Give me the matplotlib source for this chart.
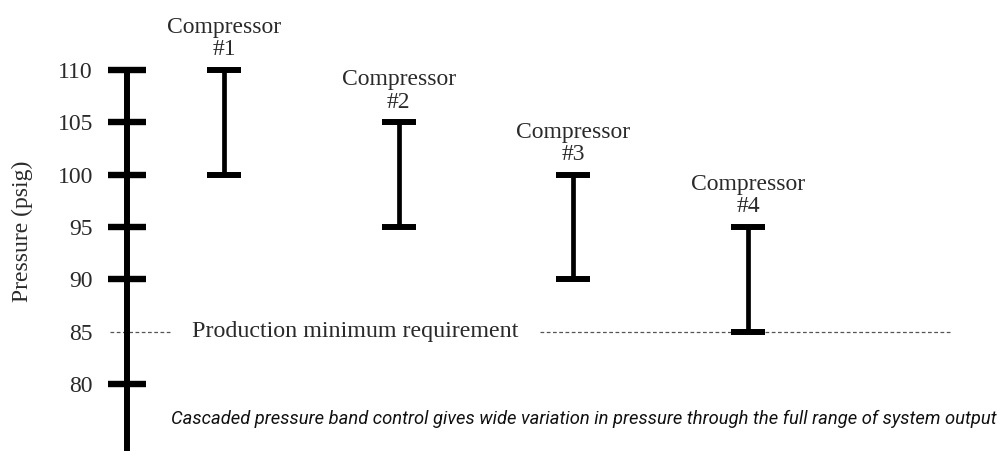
import matplotlib
matplotlib.use("Agg")
import matplotlib.pyplot as plt

# compressor pressure bands (psig)
compressors = ["#1", "#2", "#3", "#4"]
band_low = [100, 95, 90, 85]
band_high = [110, 105, 100, 95]
min_requirement = 85
yticks = [80, 85, 90, 95, 100, 105, 110]
caption = ("Cascaded pressure band control gives wide variation in pressure "
           "through the full range of system output")

serif = ["Liberation Serif", "DejaVu Serif"]
txt_col = "#2a2a2a"

fig = plt.figure(figsize=(10.03, 4.51), dpi=100)
ax = fig.add_axes([127 / 1003, 0, 876 / 1003, 1])

xs = list(range(1, len(compressors) + 1))
mid = [(lo + hi) / 2 for lo, hi in zip(band_low, band_high)]
err = [(hi - lo) / 2 for lo, hi in zip(band_low, band_high)]
ax.errorbar(xs, mid, yerr=err, fmt="none", ecolor="black", elinewidth=3.4,
            capsize=12.5, capthick=4.3, zorder=3)

for x, hi, name in zip(xs, band_high, compressors):
    ax.annotate("Compressor\n" + name, (x, hi), xytext=(0, 7),
                textcoords="offset points", ha="center", va="bottom",
                fontsize=17, family=serif, color=txt_col, linespacing=1.08)

# production minimum line, broken around its label
ax.hlines(min_requirement, 0.347, 0.702, colors="#555555", linestyles=(0, (3, 2)),
          linewidth=0.9, clip_on=False, zorder=1)
ax.hlines(min_requirement, 2.809, 5.167, colors="#555555", linestyles=(0, (3, 2)),
          linewidth=0.9, clip_on=False, zorder=1)
ax.text(0.817, min_requirement, "Production minimum requirement", ha="left",
        va="center", fontsize=17.3, family=serif, color=txt_col)

ax.text(0.994, 0.071, caption, transform=fig.transFigure, ha="right",
        va="center", fontsize=13.2, style="italic",
        family=["Roboto", "DejaVu Sans"], color="#111111")

ax.set_xlim(1 - 97 / 174.7, 1 + 779 / 174.7)
ax.set_ylim(80 - 67 / 10.47, 110 + 70 / 10.47)

for s in ["top", "right", "bottom"]:
    ax.spines[s].set_visible(False)
ax.spines["left"].set_linewidth(4.3)
ax.spines["left"].set_bounds(ax.get_ylim()[0], 110)
ax.set_xticks([])
ax.set_yticks(yticks)
ax.tick_params(axis="y", direction="inout", length=27, width=4.6, pad=11,
               labelsize=17, labelcolor=txt_col)
for lab in ax.get_yticklabels():
    lab.set_family(serif)
ax.yaxis.get_major_ticks()[1].tick1line.set_visible(False)

ax.set_ylabel("Pressure (psig)", family=serif, fontsize=17, color=txt_col)
ax.yaxis.set_label_coords(-0.107, 0.488)

fig.savefig("out.png", dpi=100, facecolor="white")
